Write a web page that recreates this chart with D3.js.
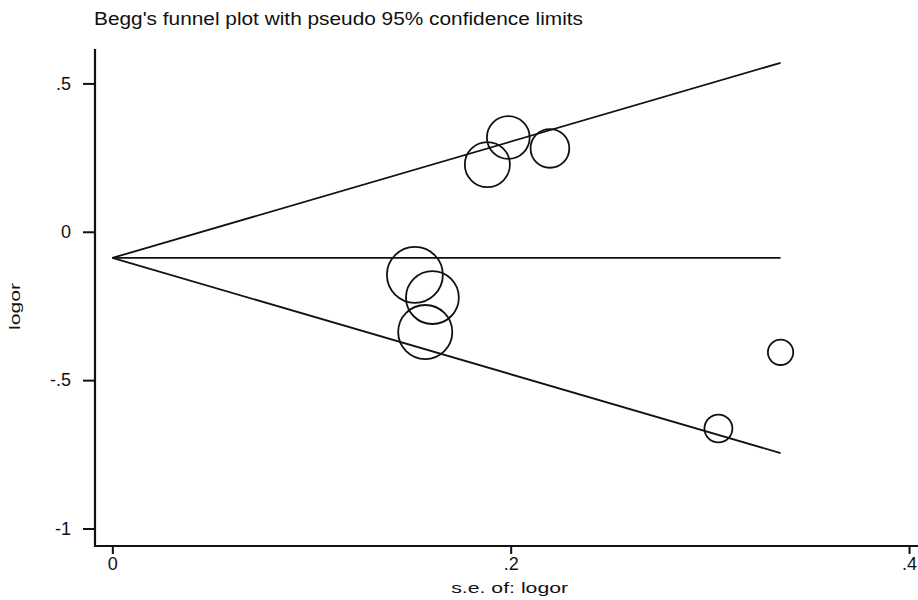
<!DOCTYPE html>
<html>
<head>
<meta charset="utf-8">
<script src="https://cdn.jsdelivr.net/npm/d3@7/dist/d3.min.js"></script>
<style>
  html, body { margin: 0; padding: 0; background: #fff; }
  svg { display: block; }
  text { font-family: "Liberation Sans", Arial, sans-serif; fill: #111; }
</style>
</head>
<body>
<svg id="chart" width="918" height="600"></svg>
<script>
// Study-level estimates: standard error and log odds ratio
const studyIds = ["1", "2", "3", "4", "5", "6", "7", "8"];
const seValues = [0.1883, 0.1988, 0.2197, 0.1519, 0.1607, 0.1571, 0.3043, 0.3355];
const logorValues = [0.2264, 0.318, 0.281, -0.145, -0.2217, -0.338, -0.663, -0.4063];

// Axis ticks and labels
const xTickValues = [0, 0.2, 0.4];
const xTickLabels = ["0", ".2", ".4"];
const yTickValues = [-1, -0.5, 0, 0.5];
const yTickLabels = ["-1", "-.5", "0", ".5"];

const titleText = "Begg's funnel plot with pseudo 95% confidence limits";
const xTitle = "s.e. of: logor";
const yTitle = "logor";

const studies = studyIds.map((id, i) => ({ id, se: seValues[i], logor: logorValues[i], w: 1 / (seValues[i] * seValues[i]) }));

// Fixed-effect pooled estimate (inverse-variance weights)
const sumW = d3.sum(studies, d => d.w);
const pooled = d3.sum(studies, d => d.w * d.logor) / sumW;
const maxSe = d3.max(studies, d => d.se);

const svg = d3.select("#chart");

const x = d3.scaleLinear().domain([-0.0087, 0.4045]).range([95, 918]);
const y = d3.scaleLinear().domain([-1.059, 0.616]).range([546, 49]);
// Marker area proportional to weight
const r = d3.scaleSqrt().domain([0, 1]).range([0, 4.25]);

// Title
svg.append("text")
  .attr("x", 94).attr("y", 25)
  .attr("font-size", 18)
  .attr("textLength", 489)
  .attr("lengthAdjust", "spacingAndGlyphs")
  .text(titleText);

// Axes
const yAxis = d3.axisLeft(y)
  .tickValues(yTickValues)
  .tickFormat((d, i) => yTickLabels[i])
  .tickSize(12).tickSizeOuter(0).tickPadding(12);
const gy = svg.append("g").attr("transform", "translate(95,0)").call(yAxis);

const xAxis = d3.axisBottom(x)
  .tickValues(xTickValues)
  .tickFormat((d, i) => xTickLabels[i])
  .tickSize(8).tickSizeOuter(0).tickPadding(3);
const gx = svg.append("g").attr("transform", "translate(0,546)").call(xAxis);

[gx, gy].forEach(g => {
  g.select(".domain").attr("stroke", "#111").attr("stroke-width", 2.2);
  g.selectAll(".tick line").attr("stroke", "#111").attr("stroke-width", 2);
  g.selectAll(".tick text").attr("font-size", 18).attr("fill", "#111").attr("font-family", "\"Liberation Sans\", Arial, sans-serif");
});
gx.select(".domain").attr("d", `M${x.range()[0]},0H${x.range()[1]}`);
gy.select(".domain").attr("d", `M0,${y.range()[0] + 1}V${y.range()[1]}`);

// Axis titles
svg.append("text")
  .attr("x", x(0.2) - 1).attr("y", 593)
  .attr("text-anchor", "middle")
  .attr("font-size", 15)
  .attr("textLength", 117)
  .attr("lengthAdjust", "spacingAndGlyphs")
  .text(xTitle);

svg.append("text")
  .attr("transform", `translate(20,${y((y.domain()[0] + y.domain()[1]) / 2) + 9}) rotate(-90)`)
  .attr("text-anchor", "middle")
  .attr("font-size", 15)
  .attr("textLength", 47)
  .attr("lengthAdjust", "spacingAndGlyphs")
  .text(yTitle);

// Pseudo 95% confidence limits and pooled estimate
const limits = [
  [[0, pooled], [maxSe, pooled + 1.96 * maxSe]],
  [[0, pooled], [maxSe, pooled]],
  [[0, pooled], [maxSe, pooled - 1.96 * maxSe]]
];
const line = d3.line().x(d => x(d[0])).y(d => y(d[1]));
svg.append("g").selectAll("path")
  .data(limits)
  .join("path")
  .attr("d", line)
  .attr("fill", "none")
  .attr("stroke", "#111")
  .attr("stroke-width", 1.8);

// Study markers
svg.append("g").selectAll("circle")
  .data(studies)
  .join("circle")
  .attr("cx", d => x(d.se))
  .attr("cy", d => y(d.logor))
  .attr("r", d => r(d.w))
  .attr("fill", "none")
  .attr("stroke", "#111")
  .attr("stroke-width", 1.8);
</script>
</body>
</html>
